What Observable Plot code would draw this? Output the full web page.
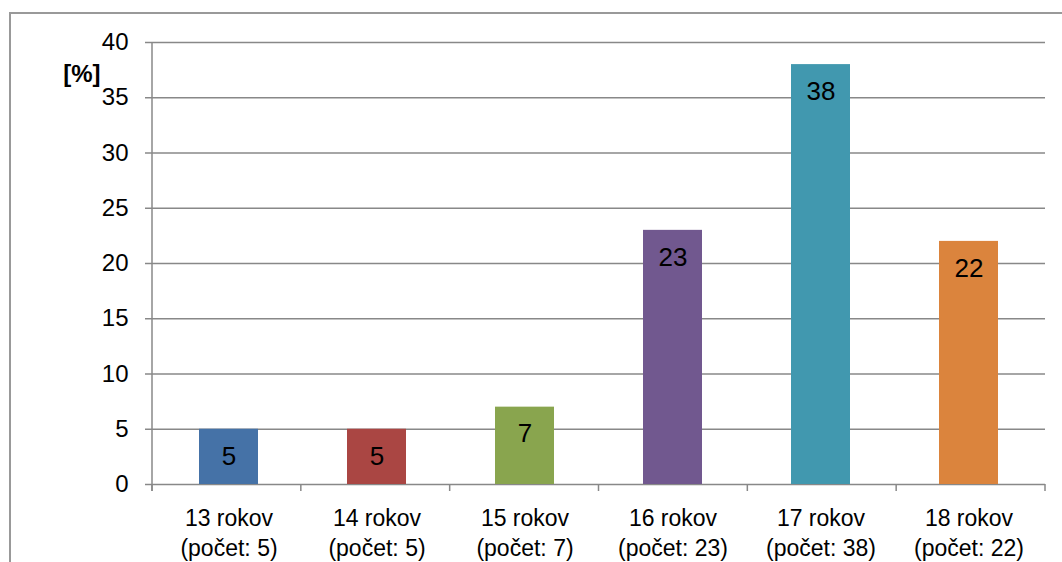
<!DOCTYPE html>
<html><head><meta charset="utf-8">
<script src="https://cdn.jsdelivr.net/npm/d3@7"></script>
<script src="https://cdn.jsdelivr.net/npm/@observablehq/plot@0.6"></script>
<style>
body{margin:0;background:#fff;font-family:"Liberation Sans",Arial,sans-serif;}
#wrap{position:relative;width:1062px;height:562px;overflow:hidden;}
#border{position:absolute;left:9px;top:12px;width:1100px;height:600px;border-top:2px solid #999;border-left:2px solid #999;}
#chart{position:absolute;left:0;top:0;}
</style></head><body>
<div id="wrap"><div id="border"></div><div id="chart"></div></div>
<script>
const categories = ["13 rokov", "14 rokov", "15 rokov", "16 rokov", "17 rokov", "18 rokov"];
const counts = [5, 5, 7, 23, 38, 22];
const percents = [5, 5, 7, 23, 38, 22];
const barColors = ["#4572A7", "#AA4643", "#89A54E", "#71588F", "#4198AF", "#DB843D"];
const yTicks = [0, 5, 10, 15, 20, 25, 30, 35, 40];
const yLabel = "[%]";

const data = categories.map((c, i) => ({cat: c, count: counts[i], pct: percents[i]}));

const axisLines = (index, scales, values, dims) => {
  const {width, height, marginLeft, marginRight, marginTop, marginBottom} = dims;
  const n = categories.length;
  const step = (width - marginLeft - marginRight) / n;
  const y0 = height - marginBottom;
  const g = d3.create("svg:g").attr("stroke", "#888").attr("stroke-width", 1.5);
  g.append("line").attr("x1", marginLeft).attr("x2", marginLeft).attr("y1", marginTop).attr("y2", y0 + 7);
  for (let i = 0; i <= n; i++) {
    const x = marginLeft + i * step;
    g.append("line").attr("x1", x).attr("x2", x).attr("y1", y0).attr("y2", y0 + 7);
  }
  return g.node();
};

const chart = Plot.plot({
  width: 1062,
  height: 562,
  marginLeft: 152,
  marginRight: 17,
  marginTop: 42,
  marginBottom: 78,
  style: {fontFamily: "'Liberation Sans', Arial, sans-serif", color: "#000", background: "transparent"},
  x: {domain: categories, paddingInner: 0.6, paddingOuter: 0.3},
  y: {domain: [0, 40]},
  color: {domain: categories, range: barColors},
  marks: [
    Plot.gridY(yTicks, {stroke: "#888", strokeOpacity: 1, strokeWidth: 1.5}),
    Plot.barY(data, {x: "cat", y: "pct", fill: "cat"}),
    Plot.text(data, {x: "cat", y: "pct", text: d => String(d.pct), dy: 27, fontSize: 26, fill: "#000"}),
    Plot.axisY({ticks: yTicks, tickSize: 7, tickPadding: 17, fontSize: 24, stroke: "#888", strokeWidth: 1.5, label: null, tickFormat: d => String(d)}),
    Plot.axisX({tickSize: 0, tickPadding: 20, fontSize: 23, lineHeight: 1.3, label: null,
      tickFormat: d => `${d}\n(počet: ${counts[categories.indexOf(d)]})`}),
    Plot.text([yLabel], {frameAnchor: "top-left", lineAnchor: "middle", dx: -52, dy: 32, textAnchor: "end", fontWeight: "bold", fontSize: 24, fill: "#000"}),
    axisLines
  ]
});
document.getElementById("chart").appendChild(chart);
</script>
</body></html>
